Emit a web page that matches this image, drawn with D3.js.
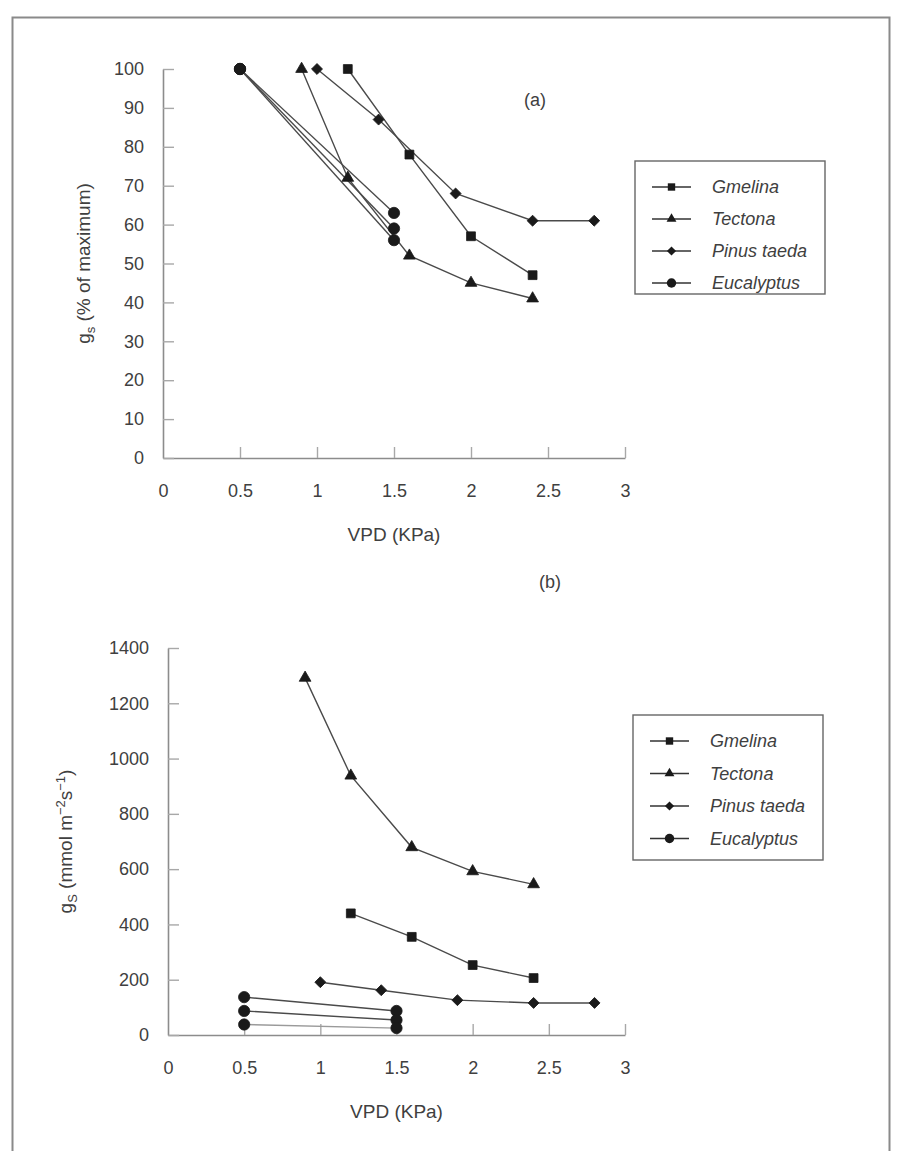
<!DOCTYPE html>
<html>
<head>
<meta charset="utf-8">
<script src="https://cdn.jsdelivr.net/npm/d3@7"></script>
<style>
  html, body { margin: 0; padding: 0; background: #fff; }
  svg { display: block; }
  text { font-family: "Liberation Sans", Arial, Helvetica, sans-serif; fill: #404040; }
</style>
</head>
<body>
<svg id="chart" width="907" height="1151"></svg>
<script>
// ---- shared axis ticks and species ----
const vpdTicks = [0, 0.5, 1, 1.5, 2, 2.5, 3];
const pctTicks = [0, 10, 20, 30, 40, 50, 60, 70, 80, 90, 100];
const fluxTicks = [0, 200, 400, 600, 800, 1000, 1200, 1400];
const speciesNames = ["Gmelina", "Tectona", "Pinus taeda", "Eucalyptus"];

// ---- (a) relative stomatal conductance, % of maximum ----
const gmelinaVpd = [1.2, 1.6, 2.0, 2.4];
const gmelinaPct = [100, 78, 57, 47];
const tectonaVpd = [0.9, 1.2, 1.6, 2.0, 2.4];
const tectonaPct = [100, 72, 52, 45, 41];
const pinusVpd = [1.0, 1.4, 1.9, 2.4, 2.8];
const pinusPct = [100, 87, 68, 61, 61];
const eucalyptusVpd = [0.5, 1.5];
const eucalyptusPct1 = [100, 63];
const eucalyptusPct2 = [100, 59];
const eucalyptusPct3 = [100, 56];

// ---- (b) absolute stomatal conductance, mmol m-2 s-1 ----
const gmelinaFlux = [440, 355, 253, 206];
const tectonaFlux = [1292, 938, 679, 592, 545];
const pinusFlux = [191, 162, 126, 116, 116];
const eucalyptusFlux1 = [137, 87];
const eucalyptusFlux2 = [87, 54];
const eucalyptusFlux3 = [38, 25];

const zip = (xs, ys) => xs.map((x, i) => ({ x, y: ys[i] }));

const svg = d3.select("#chart");

// outer frame (open at the bottom edge of the page)
svg.append("path")
  .attr("d", "M12.5,1160 L12.5,17.5 L889.5,17.5 L889.5,1160")
  .attr("fill", "none")
  .attr("stroke", "#8a8a8a")
  .attr("stroke-width", 2);

const markerShapes = {
  "Gmelina": { type: d3.symbolSquare, size: 78, rot: 0 },
  "Tectona": { type: d3.symbolTriangle, size: 60, rot: 0 },
  "Pinus taeda": { type: d3.symbolSquare, size: 60, rot: 45 },
  "Eucalyptus": { type: d3.symbolCircle, size: 100, rot: 0 }
};

function drawPanel(cfg) {
  const x = d3.scaleLinear().domain([0, 3]).range(cfg.xRange);
  const y = d3.scaleLinear().domain(cfg.yDomain).range(cfg.yRange);
  const g = svg.append("g");

  // axes with inward ticks
  const xAxis = d3.axisBottom(x).tickValues(vpdTicks)
    .tickFormat(d3.format("")).tickSizeInner(-11).tickSizeOuter(0).tickPadding(26);
  const yAxis = d3.axisLeft(y).tickValues(cfg.yTicks)
    .tickFormat(d3.format("")).tickSizeInner(-11).tickSizeOuter(0).tickPadding(19);

  const gx = g.append("g").attr("transform", `translate(0,${cfg.yRange[0]})`).call(xAxis);
  const gy = g.append("g").attr("transform", `translate(${cfg.xRange[0]},0)`).call(yAxis);
  [gx, gy].forEach(a => {
    a.select(".domain").attr("stroke", "#8c8c8c").attr("stroke-width", 1.6);
    a.selectAll(".tick line").attr("stroke", "#a8a8a8").attr("stroke-width", 1.4);
    a.selectAll(".tick text").attr("font-size", 18).attr("fill", "#404040")
      .style("font-family", '"Liberation Sans", Arial, sans-serif');
  });
  gx.selectAll(".tick").filter(d => d === 0).select("line").remove();

  // x axis title
  g.append("text")
    .attr("x", (cfg.xRange[0] + cfg.xRange[1]) / 2)
    .attr("y", cfg.yRange[0] + 83)
    .attr("text-anchor", "middle")
    .attr("font-size", 19)
    .text("VPD (KPa)");

  // y axis title, rotated
  const yt = g.append("text")
    .attr("transform", `translate(${cfg.yTitleX},${(cfg.yRange[0] + cfg.yRange[1]) / 2}) rotate(-90)`)
    .attr("text-anchor", "middle")
    .attr("font-size", 19);
  cfg.yTitle(yt);

  // panel tag
  g.append("text")
    .attr("x", cfg.tag[0]).attr("y", cfg.tag[1])
    .attr("text-anchor", "middle").attr("font-size", 18)
    .text(cfg.tagText);

  const line = d3.line().x(d => x(d.x)).y(d => y(d.y));

  cfg.series.forEach(s => {
    const pts = zip(s.vpd, s.vals);
    g.append("path").datum(pts)
      .attr("d", line)
      .attr("fill", "none")
      .attr("stroke", s.stroke || "#4a4a4a")
      .attr("stroke-width", 1.4);
  });
  cfg.series.forEach(s => {
    const pts = zip(s.vpd, s.vals);
    const m = markerShapes[s.name];
    g.selectAll(null).data(pts).enter().append("path")
      .attr("d", d3.symbol().type(m.type).size(m.size))
      .attr("transform", d => `translate(${x(d.x)},${y(d.y)}) rotate(${m.rot})`)
      .attr("fill", "#1a1a1a")
      .attr("stroke", "#1a1a1a")
      .attr("stroke-width", 0.8);
  });

  // legend
  const lg = g.append("g").attr("transform", `translate(${cfg.legend[0]},${cfg.legend[1]})`);
  lg.append("rect")
    .attr("x", 0).attr("y", 0).attr("width", 190).attr("height", cfg.legendH)
    .attr("fill", "#fff").attr("stroke", "#666").attr("stroke-width", 1.4);
  speciesNames.forEach((name, i) => {
    const cy = 26 + i * cfg.legendStep;
    lg.append("line").attr("x1", 17).attr("x2", 56).attr("y1", cy).attr("y2", cy)
      .attr("stroke", "#333").attr("stroke-width", 1.5);
    const m = markerShapes[name];
    lg.append("path")
      .attr("d", d3.symbol().type(m.type).size(m.size * 0.7))
      .attr("transform", `translate(36.5,${cy}) rotate(${m.rot})`)
      .attr("fill", "#1a1a1a");
    lg.append("text")
      .attr("x", 77).attr("y", cy).attr("dy", "0.35em")
      .attr("font-size", 18).attr("font-style", "italic")
      .text(name);
  });
}

drawPanel({
  xRange: [163, 625],
  yRange: [458, 69],
  yDomain: [0, 100],
  yTicks: pctTicks,
  yTitleX: 90,
  yTitle: t => {
    t.append("tspan").text("g");
    t.append("tspan").attr("font-size", 13).attr("dy", 5).text("s");
    t.append("tspan").attr("dy", -5).text(" (% of maximum)");
  },
  tag: [535, 106],
  tagText: "(a)",
  legend: [635, 161],
  legendH: 133,
  legendStep: 32,
  series: [
    { name: "Gmelina", vpd: gmelinaVpd, vals: gmelinaPct },
    { name: "Tectona", vpd: tectonaVpd, vals: tectonaPct },
    { name: "Pinus taeda", vpd: pinusVpd, vals: pinusPct },
    { name: "Eucalyptus", vpd: eucalyptusVpd, vals: eucalyptusPct1 },
    { name: "Eucalyptus", vpd: eucalyptusVpd, vals: eucalyptusPct2 },
    { name: "Eucalyptus", vpd: eucalyptusVpd, vals: eucalyptusPct3 }
  ]
});

drawPanel({
  xRange: [168, 625],
  yRange: [1035, 648],
  yDomain: [0, 1400],
  yTicks: fluxTicks,
  yTitleX: 72,
  yTitle: t => {
    t.append("tspan").text("g");
    t.append("tspan").attr("font-size", 13).attr("dy", 5).text("S");
    t.append("tspan").attr("dy", -5).text(" (mmol m");
    t.append("tspan").attr("font-size", 13).attr("dy", -7).text("\u22122");
    t.append("tspan").attr("dy", 7).text("s");
    t.append("tspan").attr("font-size", 13).attr("dy", -7).text("\u22121");
    t.append("tspan").attr("dy", 7).text(")");
  },
  tag: [550, 588],
  tagText: "(b)",
  legend: [633, 715],
  legendH: 145,
  legendStep: 32.5,
  series: [
    { name: "Gmelina", vpd: gmelinaVpd, vals: gmelinaFlux },
    { name: "Tectona", vpd: tectonaVpd, vals: tectonaFlux },
    { name: "Pinus taeda", vpd: pinusVpd, vals: pinusFlux },
    { name: "Eucalyptus", vpd: eucalyptusVpd, vals: eucalyptusFlux1 },
    { name: "Eucalyptus", vpd: eucalyptusVpd, vals: eucalyptusFlux2 },
    { name: "Eucalyptus", vpd: eucalyptusVpd, vals: eucalyptusFlux3, stroke: "#9a9a9a" }
  ]
});
</script>
</body>
</html>
